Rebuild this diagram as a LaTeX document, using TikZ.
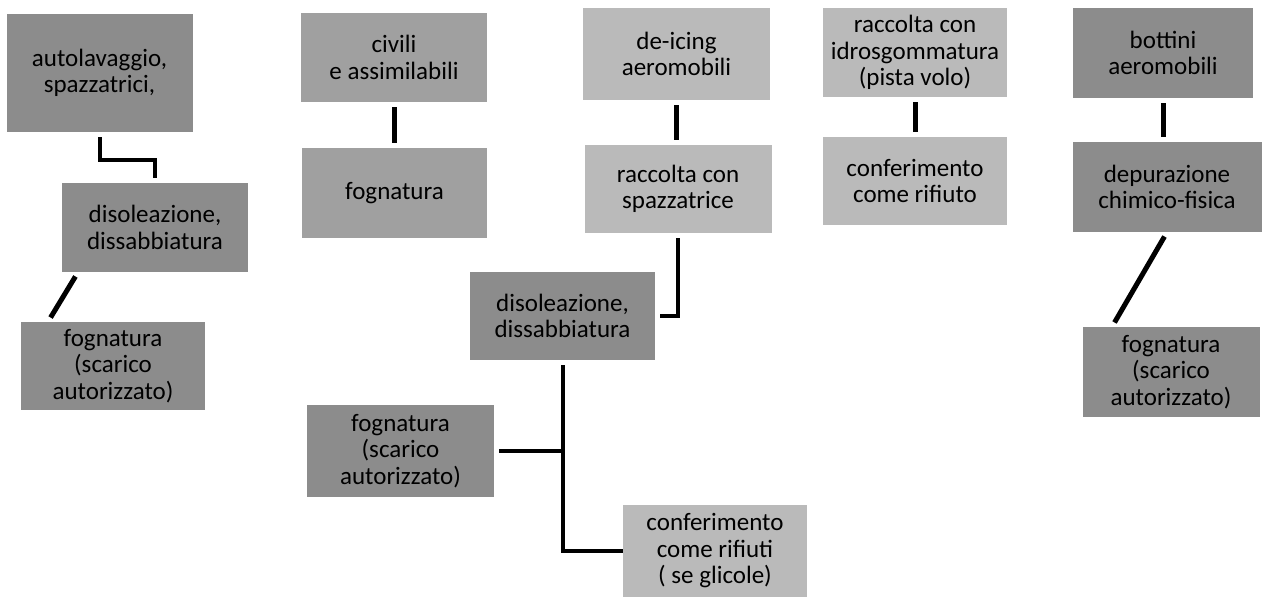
\documentclass[tikz,border=0pt]{standalone}
\usepackage{fontspec}
\setmainfont{Carlito}
\usepackage{tikz}
\usepackage{xcolor}

\begin{document}
\begin{tikzpicture}[x=1pt,y=-1pt,
  mybox/.style={rectangle,minimum width=186,minimum height=90,inner sep=0,align=center,
    font=\fontsize{25}{26.5}\selectfont},
  bar/.style={line width=5pt,shorten <=5pt,shorten >=5pt},
  link/.style={line width=4pt,shorten <=5pt,shorten >=5pt}]
\definecolor{ashgray}{HTML}{8C8C8C}
\definecolor{smokegray}{HTML}{A0A0A0}
\definecolor{palegray}{HTML}{BABABA}
\useasboundingbox (0,0) rectangle (1264,597);
% column 1
\node [mybox,fill=ashgray,minimum height=118] (auto) at (99.5,73) {autolavaggio,\\spazzatrici,};
\node [mybox,fill=ashgray,minimum height=89] (disoA) at (155,227.5) {disoleazione,\\dissabbiatura};
\node [mybox,fill=ashgray,minimum width=184,minimum height=88] (fognA) at (113,366) {fognatura\\(scarico\\autorizzato)};
% column 2
\node [mybox,fill=smokegray,minimum height=89] (civ) at (394,57.5) {civili\\e assimilabili};
\node [mybox,fill=smokegray,minimum width=185] (fogn) at (394.5,193) {fognatura};
% column 3
\node [mybox,fill=palegray,minimum width=187,minimum height=92] (deic) at (676.5,54) {de-icing\\aeromobili};
\node [mybox,fill=palegray,minimum width=187,minimum height=88] (racc) at (678,189) {raccolta con\\spazzatrice};
\node [mybox,fill=ashgray,minimum width=185,minimum height=88] (disoB) at (562.5,316) {disoleazione,\\dissabbiatura};
\node [mybox,fill=ashgray,minimum width=187,minimum height=92] (fognB) at (400.5,451) {fognatura\\(scarico\\autorizzato)};
\node [mybox,fill=palegray,minimum width=184,minimum height=92] (rifi) at (715,551) {conferimento\\come rifiuti\\( se glicole)};
% column 4
\node [mybox,fill=palegray,minimum width=184,minimum height=89] (idro) at (915,52.5) {raccolta con\\idrosgommatura\\(pista volo)};
\node [mybox,fill=palegray,minimum width=184,minimum height=88] (conf) at (915,181) {conferimento\\come rifiuto};
% column 5
\node [mybox,fill=ashgray,minimum width=180] (bott) at (1163,53) {bottini\\aeromobili};
\node [mybox,fill=ashgray,minimum width=189] (depu) at (1167,187) {depurazione\\chimico-fisica};
\node [mybox,fill=ashgray,minimum width=177] (fognC) at (1171,372) {fognatura\\(scarico\\autorizzato)};

\foreach \up/\down in {civ/fogn,deic/racc,idro/conf,bott/depu}
  {\draw [bar] (\up.south) -- (\up.south |- \down.north);}
\draw [link] (auto.south) -- ++(0,28) -| (disoA.north);
\draw [bar] ([xshift=-77]disoA.south) -- ([xshift=-65]fognA.north);
\draw [bar] (depu.south) -- ([xshift=-59]fognC.north);
\draw [link] (racc.south) |- (disoB.east);
\draw [link,shorten >=0pt] (disoB.south) |- (rifi.west);
\draw [link,shorten >=0pt] (fognB.east) -- (fognB.east -| disoB.south);
\end{tikzpicture}
\end{document}
